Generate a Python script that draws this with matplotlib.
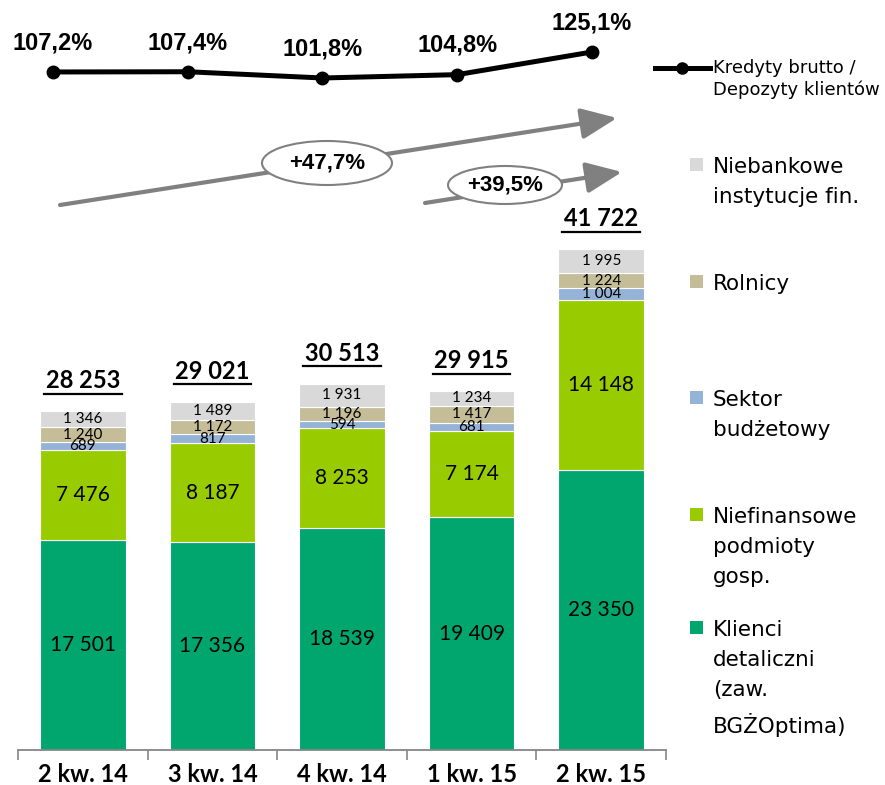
import matplotlib.pyplot as plt
from matplotlib.patches import Ellipse, Rectangle
from matplotlib.transforms import ScaledTranslation
import numpy as np

quarters = ['2 kw. 14', '3 kw. 14', '4 kw. 14', '1 kw. 15', '2 kw. 15']
klienci = [17501, 17356, 18539, 19409, 23350]
niefinansowe = [7476, 8187, 8253, 7174, 14148]
sektor = [689, 817, 594, 681, 1004]
rolnicy = [1240, 1172, 1196, 1417, 1224]
niebankowe = [1346, 1489, 1931, 1234, 1995]
totals = [28253, 29021, 30513, 29915, 41722]
ratio = [107.2, 107.4, 101.8, 104.8, 125.1]

series = [klienci, niefinansowe, sektor, rolnicy, niebankowe]
colors = ['#00A66E', '#99CC00', '#95B3D7', '#C4BD97', '#D9D9D9']
legend_labels = ['Klienci\ndetaliczni\n(zaw.\nBGŻOptima)',
                 'Niefinansowe\npodmioty\ngosp.',
                 'Sektor\nbudżetowy',
                 'Rolnicy',
                 'Niebankowe\ninstytucje fin.']
legend_y = [628, 515, 398, 282, 165]


def fmt(v):
    return f'{v:,}'.replace(',', ' ')


W, H = 885, 785
fig = plt.figure(figsize=(W / 100, H / 100), dpi=100)

# stacked bars
ax = fig.add_axes([18 / W, 35 / H, 648 / W, 650 / H])
x = np.arange(len(quarters))
bottom = np.zeros(len(quarters))
for i, (vals, c) in enumerate(zip(series, colors)):
    vals = np.array(vals)
    ax.bar(x, vals, 0.66, bottom=bottom, color=c, edgecolor='white', linewidth=0.8)
    for xi, b, v in zip(x, bottom, vals):
        big = i < 2
        ax.text(xi, b + v / 2, fmt(int(v)), ha='center', va='center',
                fontsize=15 if big else 11, family='Lato', color='black')
    bottom = bottom + vals

for xi, t in zip(x, totals):
    ax.annotate(fmt(t), (xi, t), xytext=(0, 22), textcoords='offset points',
                ha='center', va='center', fontsize=17, fontweight='bold', family='Lato')
    ax.plot([xi - 0.3, xi + 0.3], [t, t], color='black', lw=1.6,
            transform=ax.transData + ScaledTranslation(0, 12.5 / 72, fig.dpi_scale_trans))

ax.set_xlim(-0.5, 4.5)
ax.set_ylim(0, 54167)
ax.set_xticks(x)
ax.set_xticklabels(quarters, fontsize=17, fontweight='bold', family='Lato')
ax.tick_params(axis='x', which='major', length=0, pad=9)
ax.set_xticks(np.arange(-0.5, 5, 1), minor=True)
ax.tick_params(axis='x', which='minor', length=7, width=1.2, color='#868686')
ax.set_yticks([])
for s in ['top', 'right', 'left']:
    ax.spines[s].set_visible(False)
ax.spines['bottom'].set_color('#868686')
ax.spines['bottom'].set_linewidth(1.3)

# ratio line
lax = fig.add_axes([18 / W, (H - 110) / H, 648 / W, 90 / H])
lax.plot(x, ratio, color='black', lw=3.6, marker='o', markersize=9)
for xi, r in zip(x, ratio):
    lax.annotate(f'{r:.1f}%'.replace('.', ','), (xi, r), xytext=(0, 21),
                 textcoords='offset points', ha='center', va='center',
                 fontsize=17, fontweight='bold', family='Liberation Sans')
lax.set_xlim(-0.26, 4.55)
lax.set_ylim(73.1, 153.8)
lax.axis('off')

# overlay for arrows, ellipses and legend
ov = fig.add_axes([0, 0, 1, 1])
ov.set_xlim(0, W)
ov.set_ylim(H, 0)
ov.axis('off')

arrow = dict(arrowstyle='-|>,head_length=2.2,head_width=0.95', lw=3,
             color='#808080', shrinkA=0, shrinkB=0)
ov.annotate('', xy=(617, 118), xytext=(60, 205), arrowprops=arrow)
ov.annotate('', xy=(622, 172), xytext=(425, 203), arrowprops=arrow)
for (cx, cy, ew, eh, lab) in [(327, 163, 130, 44, '+47,7%'), (505, 185, 114, 38, '+39,5%')]:
    ov.add_patch(Ellipse((cx, cy), ew, eh, facecolor='white', edgecolor='#808080',
                         lw=1.5, zorder=5))
    ov.text(cx, cy, lab, ha='center', va='center', fontsize=16, fontweight='bold',
            family='Liberation Sans', zorder=6)

ov.plot([655, 710], [68, 68], color='black', lw=3.6)
ov.plot([682], [68], 'o', color='black', markersize=8)
ov.text(713, 79, 'Kredyty brutto /\nDepozyty klientów', ha='left', va='center',
        fontsize=13, family='DejaVu Sans', linespacing=1.25)

for lab, c, ly in zip(legend_labels, colors, legend_y):
    ov.add_patch(Rectangle((690, ly - 7), 13, 13, facecolor=c, edgecolor='none'))
    ov.text(713, ly - 8, lab, ha='left', va='top', fontsize=15.5,
            family='DejaVu Sans', linespacing=1.63)

fig.savefig('out.png', dpi=100)
